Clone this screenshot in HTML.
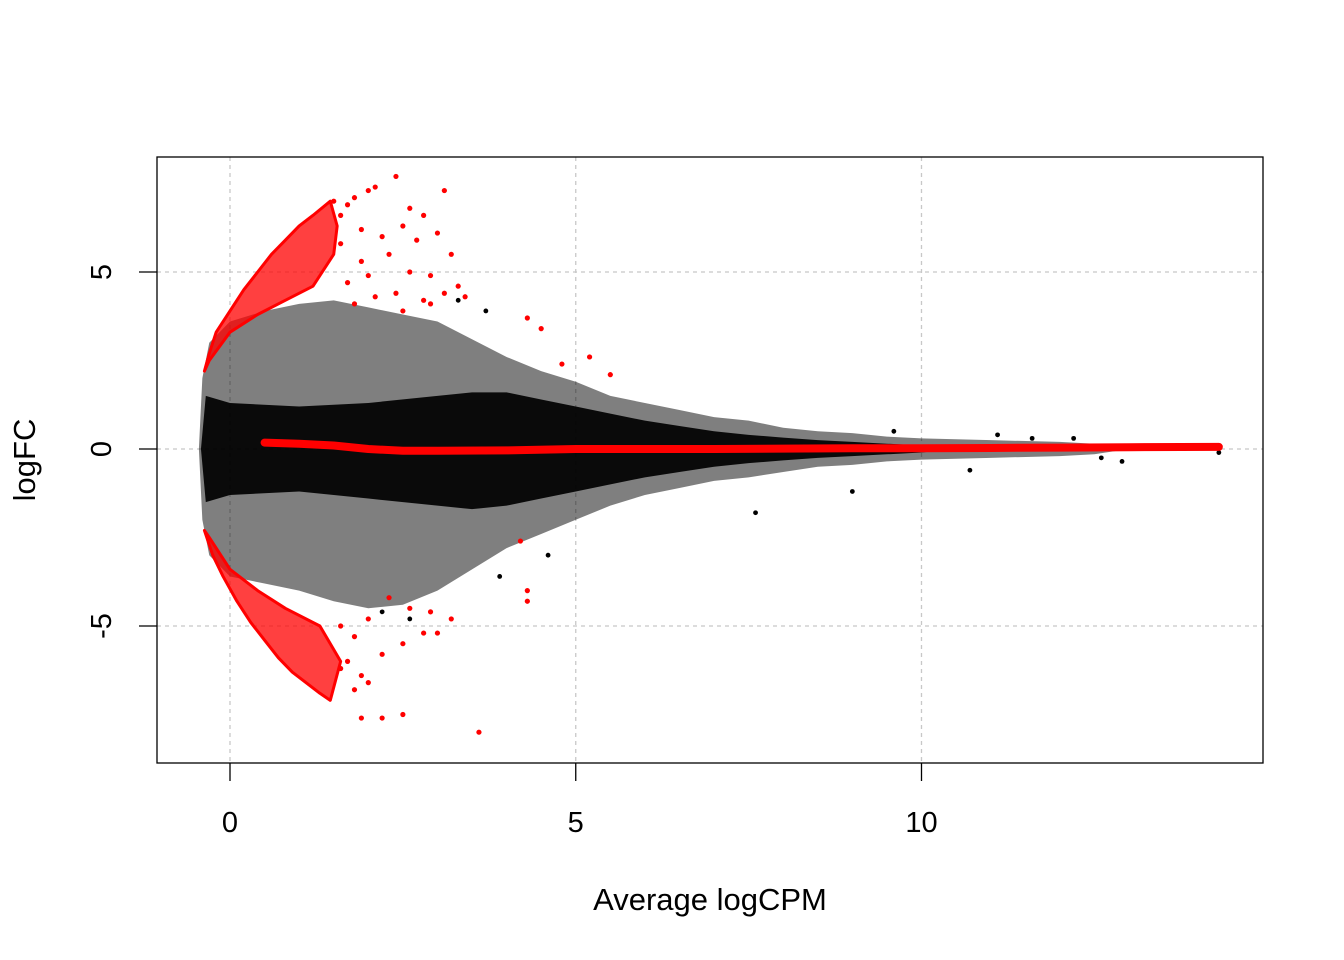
<!DOCTYPE html>
<html><head><meta charset="utf-8"><style>
html,body{margin:0;padding:0;background:#fff;}
svg{display:block;font-family:"Liberation Sans",Arial,sans-serif;}
</style></head><body>
<svg id="chart" width="1344" height="960" viewBox="0 0 1344 960" xmlns="http://www.w3.org/2000/svg"></svg>
<script>
// ---- data ----
const xTicks=[0,5,10];
const yTicks=[-5,0,5];
// black cloud outer envelope (sparse) : x, upper, lower
const envX=[-0.45,-0.4,-0.3,0,0.5,1,1.5,2,2.5,3,3.5,4,4.5,5,5.5,6,6.5,7,7.5,8,8.5,9,9.5,10,11,12,12.5,13];
const envUp=[0,2.0,3.0,3.6,3.9,4.1,4.2,4.0,3.8,3.6,3.1,2.6,2.2,1.9,1.5,1.3,1.1,0.9,0.8,0.6,0.5,0.45,0.35,0.3,0.25,0.2,0.15,0];
const envLo=[0,-2.0,-3.0,-3.6,-3.8,-4.0,-4.3,-4.5,-4.4,-4.0,-3.4,-2.8,-2.4,-2.0,-1.6,-1.3,-1.1,-0.9,-0.8,-0.65,-0.5,-0.45,-0.35,-0.3,-0.25,-0.2,-0.15,0];
// dense core envelope
const coreX=[-0.42,-0.35,0,1,2,3,3.5,4,4.5,5,5.5,6,6.5,7,7.5,8,8.5,9,9.5,10,10.5];
const coreUp=[0,1.5,1.3,1.2,1.3,1.5,1.6,1.6,1.4,1.2,1.0,0.8,0.65,0.5,0.4,0.32,0.25,0.2,0.15,0.1,0];
const coreLo=[0,-1.5,-1.3,-1.2,-1.4,-1.6,-1.7,-1.6,-1.4,-1.2,-1.0,-0.8,-0.65,-0.5,-0.4,-0.32,-0.25,-0.2,-0.15,-0.1,0];
// isolated black points
const blackX=[9.0,7.6,12.9,12.6,11.1,11.6,12.2,13.8,14.3,10.7,9.6,3.7,3.3,2.6,2.2,3.9,4.6];
const blackY=[-1.2,-1.8,-0.35,-0.25,0.4,0.3,0.3,0.1,-0.1,-0.6,0.5,3.9,4.2,-4.8,-4.6,-3.6,-3.0];
// red dense band (upper / lower)
const redUpX=[-0.37,-0.3,-0.2,0,0.2,0.4,0.6,0.8,1.0,1.2,1.45,1.55,1.5,1.2,0.8,0.4,0,-0.3];
const redUpY=[2.2,2.7,3.3,3.9,4.5,5.0,5.5,5.9,6.3,6.6,7.0,6.3,5.5,4.6,4.2,3.8,3.3,2.5];
const redLoX=[-0.37,-0.25,-0.1,0.1,0.3,0.5,0.7,0.9,1.1,1.3,1.45,1.6,1.3,0.8,0.4,0,-0.3];
const redLoY=[-2.3,-3.0,-3.6,-4.3,-4.9,-5.4,-5.9,-6.3,-6.6,-6.9,-7.1,-6.0,-5.0,-4.5,-4.0,-3.4,-2.5];
// scattered red points
const redX=[1.5,1.6,1.7,1.8,2.0,2.1,2.4,2.6,2.8,3.1,1.9,2.2,2.5,2.7,3.0,3.2,1.6,1.9,2.3,2.6,2.9,3.3,1.7,2.0,2.4,2.8,3.1,1.8,2.1,2.5,2.9,3.4,4.3,4.5,5.2,5.5,4.8,
            1.6,1.8,2.0,2.3,2.6,2.9,3.0,1.7,1.9,2.2,2.5,2.8,3.2,1.9,2.2,2.5,3.6,4.3,4.3,4.2,2.0,1.8,1.6];
const redY=[7.0,6.6,6.9,7.1,7.3,7.4,7.7,6.8,6.6,7.3,6.2,6.0,6.3,5.9,6.1,5.5,5.8,5.3,5.5,5.0,4.9,4.6,4.7,4.9,4.4,4.2,4.4,4.1,4.3,3.9,4.1,4.3,3.7,3.4,2.6,2.1,2.4,
            -5.0,-5.3,-4.8,-4.2,-4.5,-4.6,-5.2,-6.0,-6.4,-5.8,-5.5,-5.2,-4.8,-7.6,-7.6,-7.5,-8.0,-4.0,-4.3,-2.6,-6.6,-6.8,-6.2];
// loess trend
const trendX=[0.5,1.0,1.5,2.0,2.5,3,4,5,6,7,8,9,10,11,12,13,14.3];
const trendY=[0.18,0.15,0.1,0.0,-0.05,-0.05,-0.04,0.0,0.0,0.0,0.01,0.02,0.02,0.03,0.04,0.05,0.06];

// ---- scales ----
const X=v=>230+v*69.15;
const Y=v=>449-v*35.4;
const svg=document.getElementById('chart');
const NS='http://www.w3.org/2000/svg';
function mk(tag,attrs,parent){const e=document.createElementNS(NS,tag);for(const k in attrs)e.setAttribute(k,attrs[k]);(parent||svg).appendChild(e);return e;}

// grid
xTicks.forEach(t=>{const l=mk('line',{x1:X(t),x2:X(t),y1:157,y2:763,stroke:'#c8c8c8','stroke-width':1.3,'stroke-dasharray':'4,4'});

});
yTicks.forEach(t=>{const l=mk('line',{x1:157,x2:1263,y1:Y(t),y2:Y(t),stroke:'#c8c8c8','stroke-width':1.3,'stroke-dasharray':'4,4'});

});

function poly(xs,up,lo,fill,op,name){
  let pts=xs.map((x,i)=>X(x)+','+Y(up[i]));
  for(let i=xs.length-1;i>=0;i--)pts.push(X(xs[i])+','+Y(lo[i]));
  const p=mk('polygon',{points:pts.join(' '),fill:fill,'fill-opacity':op});
  
  
}
poly(envX,envUp,envLo,'#000',0.5,'point-cloud-sparse');
poly(coreX,coreUp,coreLo,'#000',0.92,'point-cloud-dense');
blackX.forEach((x,i)=>{const c=mk('circle',{cx:X(x),cy:Y(blackY[i]),r:2.4,fill:'#000'});

});

function closedPoly(xs,ys,name){
  const p=mk('polygon',{points:xs.map((x,i)=>X(x)+','+Y(ys[i])).join(' '),fill:'#ff0000','fill-opacity':0.75,stroke:'#ff0000','stroke-width':3,'stroke-linejoin':'round'});
  
  
}
closedPoly(redUpX,redUpY,'de-up-band');
closedPoly(redLoX,redLoY,'de-down-band');
redX.forEach((x,i)=>{const c=mk('circle',{cx:X(x),cy:Y(redY[i]),r:2.6,fill:'#ff0000'});

});

const tr=mk('polyline',{points:trendX.map((x,i)=>X(x)+','+Y(trendY[i])).join(' '),fill:'none',stroke:'#ff0000','stroke-width':8,'stroke-linecap':'round','stroke-linejoin':'round'});



// frame
const fr=mk('rect',{x:157,y:157,width:1106,height:606,fill:'none',stroke:'#000','stroke-width':1.3});



// axes ticks
xTicks.forEach(t=>{
  const l=mk('line',{x1:X(t),x2:X(t),y1:763,y2:781,stroke:'#000','stroke-width':1.3});
  
  
  const tx=mk('text',{x:X(t),y:832,'text-anchor':'middle','font-size':29});
  tx.textContent=t;
  
  
});
yTicks.forEach(t=>{
  const l=mk('line',{x1:139,x2:157,y1:Y(t),y2:Y(t),stroke:'#000','stroke-width':1.3});
  
  
  const tx=mk('text',{x:111,y:Y(t),'text-anchor':'middle','font-size':29,transform:`rotate(-90 111 ${Y(t)})`});
  tx.textContent=t;
  
  
});
const xt=mk('text',{x:710,y:910,'text-anchor':'middle','font-size':31});
xt.textContent='Average logCPM';


const yt=mk('text',{x:35,y:460,'text-anchor':'middle','font-size':31,transform:'rotate(-90 35 460)'});
yt.textContent='logFC';


</script>
</body></html>
